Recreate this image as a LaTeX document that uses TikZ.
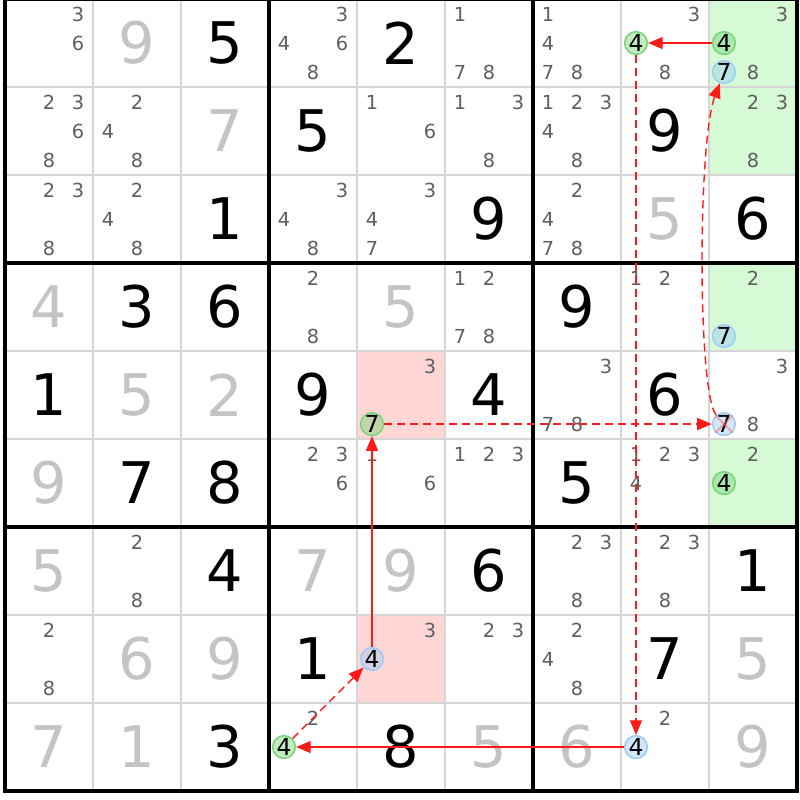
\documentclass[tikz,border=0pt]{standalone}
\usepackage{fontspec}
\setmainfont{DejaVu Sans}
\usetikzlibrary{arrows.meta}
\definecolor{solvedgray}{HTML}{C4C4C4}
\definecolor{candgray}{HTML}{5E5E5E}
\definecolor{gridgray}{HTML}{D6D6D6}
\definecolor{cellgreen}{HTML}{D6FAD6}
\definecolor{cellred}{HTML}{FFD6D6}
\definecolor{ongreen}{HTML}{78D478}
\definecolor{offblue}{HTML}{9CCCF6}
\definecolor{linkred}{HTML}{FF1A1A}
\tikzstyle{given} = [inner sep=0pt, font=\fontsize{49}{49}\selectfont, text=black]
\tikzstyle{solved} = [given, text=solvedgray]
\tikzstyle{cand} = [inner sep=0pt, font=\fontsize{16.5}{16.5}\selectfont, text=candgray]
\tikzstyle{oncand} = [circle, inner sep=0pt, font=\fontsize{20}{20}\selectfont, text=black, minimum size=0.68cm, line width=1.3pt, draw=ongreen, fill=ongreen, fill opacity=0.45, text opacity=1]
\tikzstyle{offcand} = [oncand, draw=offblue, fill=offblue]
\tikzstyle{strong} = [draw=linkred, line width=1.2pt, -{Triangle[length=0.44cm, width=0.36cm]}]
\tikzstyle{weak} = [strong, dash pattern=on 0.24cm off 0.15cm]
\tikzstyle{thingrid} = [draw=gridgray, line width=0.06cm]
\tikzstyle{boxgrid} = [draw=black, line width=0.1cm]
\tikzstyle{crossout} = [draw=red!60, line width=0.06cm, opacity=0.5]
\begin{document}
\begin{tikzpicture}[x=2.64cm, y=-2.64cm]
	\fill[white] (-0.057,0.011) rectangle (9.034,9.102);
	\useasboundingbox (-0.057,0.011) rectangle (9.034,9.102);
	\fill[cellgreen] (8,0) rectangle (9,2) (8,3) rectangle (9,4) (8,5) rectangle (9,6);
	\fill[cellred] (4,4) rectangle (5,5) (4,7) rectangle (5,8);
	\foreach \i in {1,2,4,5,7,8} {
		\path[thingrid] (\i,0) -- (\i,9);
		\path[thingrid] (0,\i) -- (9,\i);
	}
	\foreach \i in {3,6} {
		\path[boxgrid] (\i,0) -- (\i,9);
		\path[boxgrid] (0,\i) -- (9,\i);
	}
	\path[boxgrid] (0,0) rectangle (9,9);

	\foreach \r/\c/\d in {0/2/5, 0/4/2, 1/3/5, 1/7/9, 2/2/1, 2/5/9, 2/8/6, 3/1/3, 3/2/6, 3/6/9, 4/0/1, 4/3/9, 4/5/4, 4/7/6, 5/1/7, 5/2/8, 5/6/5, 6/2/4, 6/5/6, 6/8/1, 7/3/1, 7/7/7, 8/2/3, 8/4/8}
		\node[given] (g\r\c) at (\c+0.5,\r+0.5) {\d};
	\foreach \r/\c/\d in {0/1/9, 1/2/7, 2/7/5, 3/0/4, 3/4/5, 4/1/5, 4/2/2, 5/0/9, 6/0/5, 6/3/7, 6/4/9, 7/1/6, 7/2/9, 7/8/5, 8/0/7, 8/1/1, 8/5/5, 8/6/6, 8/8/9}
		\node[solved] (s\r\c) at (\c+0.5,\r+0.5) {\d};
	\foreach \r/\c/\ds in {0/0/{3,6}, 0/3/{3,4,6,8}, 0/5/{1,7,8}, 0/6/{1,4,7,8}, 0/7/{3,8}, 0/8/{3,8},
		1/0/{2,3,6,8}, 1/1/{2,4,8}, 1/4/{1,6}, 1/5/{1,3,8}, 1/6/{1,2,3,4,8}, 1/8/{2,3,8},
		2/0/{2,3,8}, 2/1/{2,4,8}, 2/3/{3,4,8}, 2/4/{3,4,7}, 2/6/{2,4,7,8},
		3/3/{2,8}, 3/5/{1,2,7,8}, 3/7/{1,2}, 3/8/{2}, 4/4/{3}, 4/6/{3,7,8}, 4/8/{3,8},
		5/3/{2,3,6}, 5/4/{1,6}, 5/5/{1,2,3}, 5/7/{1,2,3,4}, 5/8/{2},
		6/1/{2,8}, 6/6/{2,3,8}, 6/7/{2,3,8}, 7/0/{2,8}, 7/4/{3}, 7/5/{2,3}, 7/6/{2,4,8}, 8/3/{2}, 8/7/{2}}
		\foreach \d in \ds {
			\pgfmathsetmacro\cx{\c+0.5+0.33*(mod(\d-1,3)-1)}
			\pgfmathsetmacro\cy{\r+0.5+0.33*(floor((\d-1)/3)-1)}
			\node[cand] (k\r\c\d) at (\cx,\cy) {\d};
		}

	\node[oncand] (rightfour) at (8.17,0.5) {4};
	\node[oncand] (leftfour) at (7.17,0.5) {4};
	\node[offcand] (topseven) at (8.17,0.83) {7};
	\node[offcand] (midseven) at (8.17,3.83) {7};
	\node[offcand] (crossseven) at (8.17,4.83) {7};
	\node[oncand] (greenfour) at (8.17,5.5) {4};
	\node[oncand] (pinkseven) at (4.17,4.83) {7};
	\node[offcand] (pinkfour) at (4.17,7.5) {4};
	\node[oncand] (bottomfour) at (3.17,8.5) {4};
	\node[offcand] (cornerfour) at (7.17,8.5) {4};
	\path[crossout] (crossseven.north west) -- (crossseven.south east);
	\path[crossout] (crossseven.north east) -- (crossseven.south west);

	\path[strong] (rightfour) -- (leftfour);
	\path[weak] (leftfour) -- (cornerfour);
	\path[strong] (cornerfour) -- (bottomfour);
	\path[weak] (bottomfour) -- (pinkfour);
	\path[strong] (pinkfour) -- (pinkseven);
	\path[weak] (pinkseven) -- (crossseven);
	\path[weak] (crossseven) .. controls +(-0.3,-0.35) and +(-0.3,0.8) .. (topseven);
\end{tikzpicture}
\end{document}
